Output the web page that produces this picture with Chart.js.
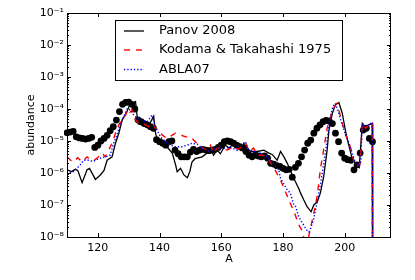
<!DOCTYPE html>
<html>
<head>
<meta charset="utf-8">
<script src="https://cdn.jsdelivr.net/npm/chart.js@4/dist/chart.umd.min.js"></script>
<style>
html,body{margin:0;padding:0;background:#fff;}
#wrap{width:415px;height:280px;}
</style>
</head>
<body>
<div id="wrap"><canvas id="c" width="415" height="280"></canvas></div>
<script>
// ---- data ----
const solarA = [110,111,112,113,114,115,116,117,118,119,120,121,122,123,124,125,126,127,128,129,130,131,132,133,134,135,136,137,138,139,140,141,142,143,144,145,146,147,148,149,150,151,152,153,154,155,156,157,158,159,160,161,162,163,164,165,166,167,168,169,170,171,172,173,174,175,176,177,178,179,180,181,182,183,184,185,186,187,188,189,190,191,192,193,194,195,196,197,198,199,200,201,202,203,204,205,206,207,208,209];
const solarAbund = [1.8e-5,1.9e-5,2.0e-5,1.35e-5,1.25e-5,1.2e-5,1.15e-5,1.2e-5,1.3e-5,6.3e-6,7.4e-6,1.0e-5,1.2e-5,1.5e-5,2.1e-5,2.8e-5,4.5e-5,8.3e-5,1.4e-4,1.6e-4,1.65e-4,1.4e-4,1.0e-4,4.6e-5,4.0e-5,3.5e-5,3.2e-5,2.8e-5,2.5e-5,1.1e-5,9.5e-6,8.5e-6,7.4e-6,9.5e-6,1.0e-5,5.2e-6,4.0e-6,3.2e-6,3.2e-6,3.2e-6,4.5e-6,5.5e-6,4.7e-6,5.2e-6,5.5e-6,5.2e-6,5.0e-6,5.2e-6,5.5e-6,6.3e-6,7.4e-6,9.5e-6,1.0e-5,9.5e-6,8.5e-6,7.4e-6,6.6e-6,6.0e-6,4.7e-6,3.6e-6,3.2e-6,3.6e-6,3.4e-6,3.2e-6,3.4e-6,2.9e-6,2.0e-6,1.9e-6,1.7e-6,1.6e-6,1.4e-6,1.26e-6,1.3e-6,7.4e-7,1.5e-6,2.0e-6,3.2e-6,5.2e-6,8.5e-6,1.07e-5,1.75e-5,2.5e-5,3.2e-5,4.0e-5,4.4e-5,4.2e-5,3.5e-5,1.75e-5,9.5e-6,4.2e-6,2.9e-6,2.6e-6,2.5e-6,1.26e-6,1.8e-6,4.2e-6,2.2e-5,2.5e-5,1.2e-5,9.5e-6];

const panovA = [110,111.5,112.7,113.5,114.9,116.5,117.3,119.2,120.8,122,123,124.6,125.7,126.8,127.9,129.2,130.3,131.1,132.2,133,134.9,136.6,138.1,138.6,139.2,140.8,142.4,144.1,145.2,145.7,146.8,147.9,149,149.8,150.5,151.5,153.8,155.4,156.5,157.5,158.6,159.7,161.3,162.5,164,165,166.2,167.3,168.4,169.5,171.6,173.8,175.4,176.5,178.1,179.2,180.3,181.4,183,184,185.1,185.7,186.7,187.8,188.7,189.1,190,191.1,192.1,193.2,194.3,194.9,196,197,198.1,199.2,200.3,201.3,202.4,203.5,204.7,205.7,206.8,207.8,208.9,209.1];
const panovAbund = [1.26e-6,1.1e-6,1.3e-6,1.2e-6,5.0e-7,1.26e-6,1.4e-6,6.3e-7,8.7e-7,1.2e-6,2.5e-6,3.2e-6,8.5e-6,1.75e-5,4.6e-5,7.4e-5,1.35e-4,1.5e-4,1.7e-4,3.5e-5,3.2e-5,3.2e-5,6.0e-5,1.95e-5,1.1e-5,9.5e-6,6.6e-6,4.2e-6,1.8e-6,1.1e-6,1.4e-6,8.7e-7,7.1e-7,1.1e-6,2.2e-6,2.8e-6,3.2e-6,4.2e-6,5.9e-6,3.6e-6,5.2e-6,4.0e-6,7.4e-6,6.0e-6,8.5e-6,7.0e-6,5.2e-6,8.5e-6,5.9e-6,4.7e-6,4.7e-6,5.2e-6,4.2e-6,3.8e-6,2.5e-6,4.7e-6,3.2e-6,2.0e-6,8.7e-7,5.4e-7,3.3e-7,2.35e-7,1.45e-7,8.9e-8,6.9e-8,6.2e-8,1.0e-7,1.26e-7,2.35e-7,7.8e-7,5.2e-6,2.2e-5,7.4e-5,1.35e-4,1.6e-4,7.4e-5,1.95e-5,7.4e-6,2.9e-6,2.0e-6,1.5e-6,3.55e-5,2.5e-5,3.2e-5,3.55e-5,1e-12];

const kodamaA = [110,111,112,113.5,114.9,116.5,118,119,120.2,121.3,122.4,123.5,124.6,125.7,126.8,127.9,129,129.7,130.4,131.1,132.2,133.3,134.9,136.5,137.8,138.6,139.7,140.8,142.4,143.5,145.1,146.8,148.4,150,151.6,152.7,154.3,155.4,156.5,157.5,158.6,160.3,161.9,164,165.5,168,169,170.5,171.6,173.2,174.9,175.9,177.5,179.2,180.8,182.4,184.1,185.1,186.2,186.7,187.5,188.3,189,190,191.1,192.1,193.2,194.3,195.4,196.5,197.3,198.1,198.7,199.2,200.3,201.4,202.5,203,204.1,205,205.7,206.8,207.8,208.9,209.1];
const kodamaAbund = [3.2e-6,2.6e-6,2.2e-6,3.0e-6,2.2e-6,3.2e-6,2.5e-6,2.6e-6,3.2e-6,4.2e-6,3.2e-6,5.2e-6,8.5e-6,1.75e-5,3.2e-5,4.6e-5,6.5e-5,1.0e-4,8.0e-5,9.3e-5,4.6e-5,3.55e-5,3.5e-5,2.8e-5,3.5e-5,2.5e-5,2.2e-5,1.55e-5,1.2e-5,1.4e-5,1.75e-5,1.55e-5,1.35e-5,1.35e-5,9.5e-6,7.4e-6,5.9e-6,5.2e-6,7.4e-6,4.2e-6,6.0e-6,5.9e-6,5.2e-6,6.6e-6,5.5e-6,8.5e-6,4.7e-6,6.0e-6,3.6e-6,3.6e-6,3.2e-6,2.2e-6,1.2e-6,6.0e-7,2.6e-7,1.12e-7,4.5e-8,2.4e-8,1.6e-8,1.0e-8,7e-9,1.0e-8,2.1e-8,5.5e-8,2.0e-7,1.3e-6,5.5e-6,2.5e-5,5.75e-5,1.1e-4,1.45e-4,9.3e-5,5.5e-5,3.55e-5,1.55e-5,8.5e-6,4.2e-6,2.0e-6,1.6e-6,2.0e-6,3.55e-5,2.5e-5,3.2e-5,4.0e-5,1e-12];

const ablaA = [110,111,112,113.2,114.3,115.4,117,118.5,119.5,120.8,122.4,124,125.1,126.2,127.3,128.4,129.5,130.6,131.6,132.9,134.5,136,137.6,138.6,140.3,141.9,143.5,145.1,147.3,148.9,150.5,152.2,153.8,156,158,160.8,163,165.1,167.8,168.8,170.5,172.7,174.9,176.5,178.6,179.2,181.4,182.4,183.5,184.1,185.1,185.7,186.7,187.8,188.4,189,189.5,190,190.5,191,191.6,192.2,193.2,194.3,195.2,196.2,196.9,197.8,198.7,200.3,201.4,202.5,203.5,204.5,205.2,205.7,206.8,207.8,208.9,209.1];
const ablaAbund = [8.7e-7,1.0e-6,1.1e-6,1.4e-6,1.8e-6,2.5e-6,2.5e-6,2.3e-6,2.6e-6,2.9e-6,3.2e-6,3.6e-6,8.5e-6,1.55e-5,3.55e-5,5.75e-5,1.05e-4,9.3e-5,6.5e-5,5.0e-5,4.3e-5,4.0e-5,6.5e-5,2.8e-5,1.35e-5,9.5e-6,7.4e-6,6.6e-6,6.6e-6,7.4e-6,8.5e-6,8.0e-6,5.9e-6,4.7e-6,5.9e-6,5.9e-6,6.3e-6,5.2e-6,9.5e-6,5.5e-6,4.7e-6,4.2e-6,3.2e-6,2.2e-6,1.26e-6,6.8e-7,2.95e-7,2.35e-7,1.0e-7,8.9e-8,4.3e-8,3.4e-8,2.35e-8,1.6e-8,1.45e-8,1.9e-8,2.7e-8,3.9e-8,6.9e-8,1.12e-7,2.35e-7,4.8e-7,2.0e-6,1.07e-5,5.0e-5,1.2e-4,1.5e-4,9.0e-5,4.5e-5,1.55e-5,8.5e-6,4.0e-6,2.0e-6,1.8e-6,2.2e-6,3.55e-5,2.8e-5,3.2e-5,3.8e-5,1e-12];

const seriesLabels = ['Panov 2008', 'Kodama & Takahashi 1975', 'ABLA07'];
const xTickValues = [120, 140, 160, 180, 200];
const yTickValues = [1e-8, 1e-7, 1e-6, 1e-5, 1e-4, 1e-3, 1e-2, 1e-1];
const yTickLabels = ['10⁻⁸', '10⁻⁷', '10⁻⁶', '10⁻⁵', '10⁻⁴', '10⁻³', '10⁻²', '10⁻¹'];
const xTitle = 'A';
const yTitle = 'abundance';

// ---- chart ----
const pts = (xs, ys) => xs.map((x, i) => ({x: x, y: ys[i]}));
const FONT = 'DejaVu Sans';

const frameTicks = {
  id: 'frameTicks',
  afterDraw(chart) {
    const ctx = chart.ctx, a = chart.chartArea;
    const xs = chart.scales.x, ys = chart.scales.y;
    ctx.save();
    ctx.strokeStyle = '#000';
    ctx.lineWidth = 1;
    ctx.beginPath();
    // major x ticks bottom & top
    xTickValues.forEach(v => {
      const px = Math.round(xs.getPixelForValue(v)) + 0.5;
      ctx.moveTo(px, a.bottom); ctx.lineTo(px, a.bottom - 4);
      ctx.moveTo(px, a.top); ctx.lineTo(px, a.top + 4);
    });
    // major y ticks
    yTickValues.forEach(v => {
      const py = Math.round(ys.getPixelForValue(v)) + 0.5;
      ctx.moveTo(a.left, py); ctx.lineTo(a.left + 4, py);
      ctx.moveTo(a.right, py); ctx.lineTo(a.right - 4, py);
    });
    // minor y ticks
    for (let d = 0; d < yTickValues.length - 1; d++) {
      for (let m = 2; m <= 9; m++) {
        const py = Math.round(ys.getPixelForValue(m * yTickValues[d])) + 0.5;
        ctx.moveTo(a.left, py); ctx.lineTo(a.left + 2, py);
        ctx.moveTo(a.right, py); ctx.lineTo(a.right - 2, py);
      }
    }
    ctx.stroke();
    ctx.strokeRect(Math.round(a.left) + 0.5, Math.round(a.top) + 0.5,
                   Math.round(a.right - a.left) - 1, Math.round(a.bottom - a.top));
    ctx.restore();
  }
};

const boxLegend = {
  id: 'boxLegend',
  afterDraw(chart) {
    const ctx = chart.ctx;
    ctx.save();
    const x0 = 115.5, y0 = 20.5, w = 227, h = 60;
    ctx.fillStyle = '#fff';
    ctx.fillRect(x0, y0, w, h);
    ctx.strokeStyle = '#000';
    ctx.lineWidth = 1;
    ctx.strokeRect(x0, y0, w, h);
    const rowY = [31, 50, 69.5];
    const lineDs = chart.data.datasets.filter(d => d.showLine);
    lineDs.forEach((ds, i) => {
      ctx.beginPath();
      ctx.strokeStyle = ds.borderColor;
      ctx.lineWidth = ds.borderWidth;
      ctx.setLineDash(ds.borderDash || []);
      ctx.moveTo(124, rowY[i]);
      ctx.lineTo(144, rowY[i]);
      ctx.stroke();
      ctx.setLineDash([]);
      ctx.fillStyle = '#000';
      ctx.font = '13px "' + FONT + '"';
      ctx.textBaseline = 'middle';
      ctx.textAlign = 'left';
      ctx.fillText(ds.label, 159, rowY[i]);
    });
    ctx.restore();
  }
};

new Chart(document.getElementById('c'), {
  type: 'scatter',
  data: {
    datasets: [
      {label: 'solar', data: pts(solarA, solarAbund), showLine: false,
       pointRadius: 3.4, pointBackgroundColor: '#000', pointBorderColor: '#000',
       pointBorderWidth: 0, order: 10, clip: 3},
      {label: seriesLabels[0], data: pts(panovA, panovAbund), showLine: true,
       borderColor: '#000000', borderWidth: 1.3, pointRadius: 0, order: 3, clip: 0, tension: 0},
      {label: seriesLabels[1], data: pts(kodamaA, kodamaAbund), showLine: true,
       borderColor: '#ff0000', borderWidth: 1.4, borderDash: [6, 6], pointRadius: 0, order: 2, clip: 0, tension: 0},
      {label: seriesLabels[2], data: pts(ablaA, ablaAbund), showLine: true,
       borderColor: '#0000ff', borderWidth: 1.4, borderDash: [1.3, 2], pointRadius: 0, order: 1, clip: 0, tension: 0}
    ]
  },
  options: {
    responsive: false,
    animation: false,
    devicePixelRatio: 1,
    layout: {padding: {left: 0, right: 24, top: 13, bottom: 0}},
    plugins: {legend: {display: false}, tooltip: {enabled: false}},
    elements: {line: {fill: false}},
    scales: {
      x: {
        type: 'linear', min: 110, max: 215,
        grid: {display: false, drawTicks: false},
        border: {display: false},
        afterBuildTicks: s => { s.ticks = xTickValues.map(v => ({value: v})); },
        afterFit: s => { s.height = 43; },
        ticks: {autoSkip: false, maxRotation: 0, padding: 5, color: '#000',
                font: {family: FONT, size: 11}, callback: v => String(v)},
        title: {display: true, text: xTitle, color: '#000', padding: {top: 0, bottom: 14},
                font: {family: FONT, size: 11}}
      },
      y: {
        type: 'logarithmic', min: 1e-8, max: 1e-1,
        grid: {display: false, drawTicks: false},
        border: {display: false},
        afterBuildTicks: s => { s.ticks = yTickValues.map(v => ({value: v})); },
        afterFit: s => { s.width = 67; },
        ticks: {autoSkip: false, padding: 3, color: '#000',
                font: {family: FONT, size: 11},
                callback: v => {
                  const i = yTickValues.findIndex(t => Math.abs(Math.log10(t) - Math.log10(v)) < 1e-6);
                  return i >= 0 ? yTickLabels[i] : '';
                }},
        title: {display: true, text: yTitle, color: '#000', padding: {top: 25, bottom: 0},
                font: {family: FONT, size: 11}}
      }
    }
  },
  plugins: [frameTicks, boxLegend]
});
</script>
</body>
</html>
